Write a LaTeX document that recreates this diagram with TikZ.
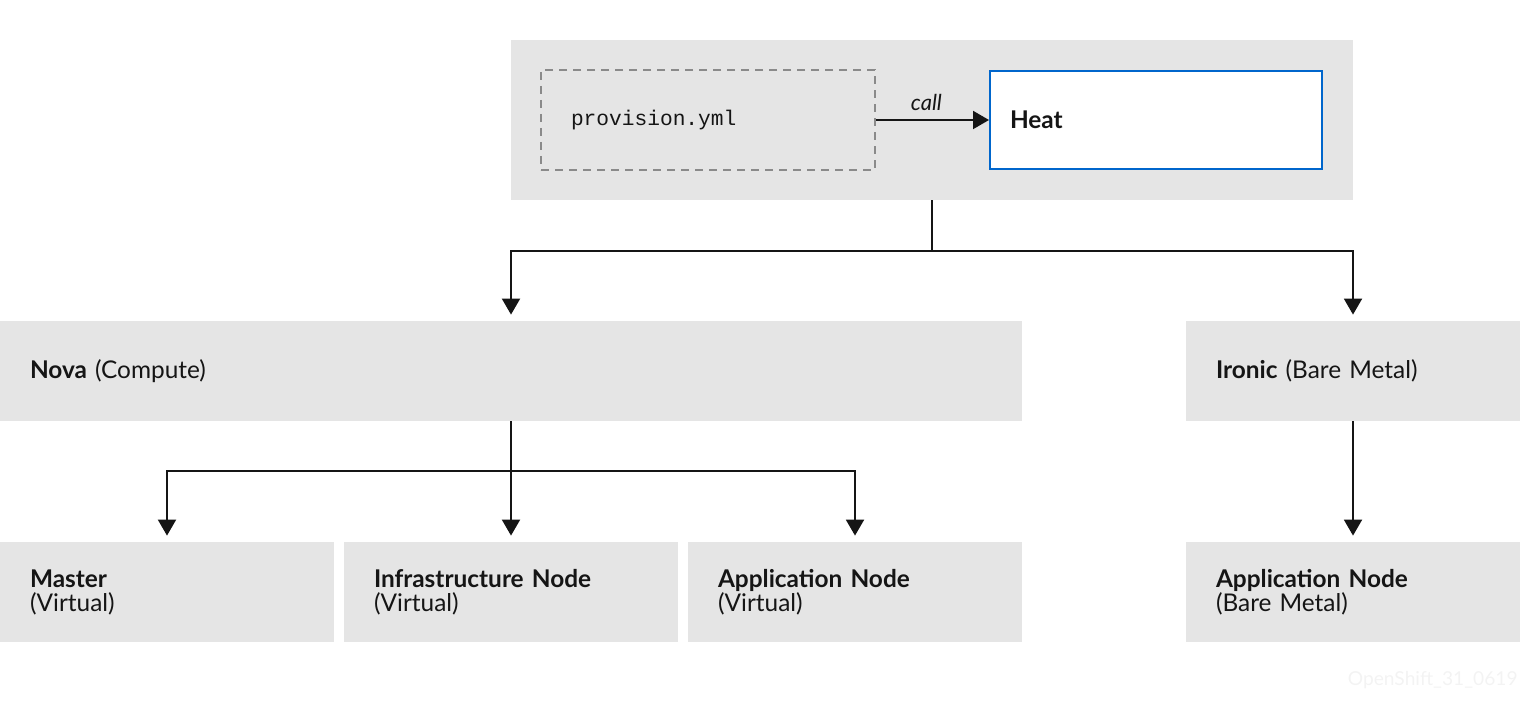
\documentclass[tikz,border=0pt]{standalone}
\usepackage{fontspec}
\setmainfont{Lato}
\setmonofont{Liberation Mono}
\usetikzlibrary{arrows.meta}
\definecolor{boxgray}{HTML}{E5E5E5}
\definecolor{ink}{HTML}{151515}
\definecolor{heatblue}{HTML}{0066CC}
\definecolor{dashgray}{HTML}{8A8A8A}
\definecolor{wm}{HTML}{F3F3F3}
\tikzset{
  graybox/.style={fill=boxgray, draw=none, rectangle, minimum height=50pt, inner xsep=15pt, inner ysep=0pt, align=left, text=ink, font=\fontsize{12.2}{12}\selectfont},
  conn/.style={draw=ink, line width=1pt, -{Triangle[width=9pt,length=8pt]}},
  plain/.style={draw=ink, line width=1pt},
}
\begin{document}
\begin{tikzpicture}[x=0.5pt,y=-0.5pt]
\useasboundingbox (0,0) rectangle (1520,721);
% top container
\node[fill=boxgray, minimum width=421pt, minimum height=80pt, inner sep=0pt] (top) at (932,120) {};
\node[draw=dashgray, dashed, dash pattern=on 4pt off 3pt, line width=0.8pt, minimum width=167pt, minimum height=50pt, inner xsep=15pt, text width=137pt, align=left, font=\ttfamily\fontsize{10.6}{12}\selectfont, text=ink] (prov) at (708,120) {provision.yml};
\node[draw=heatblue, fill=white, line width=1pt, minimum width=166pt, minimum height=49pt, inner xsep=10pt, text width=146pt, align=left, font=\bfseries\fontsize{12.2}{12}\selectfont, text=ink] (heat) at (1156,120) {Heat};
\draw[conn] (prov.east) -- node[above, font=\itshape\fontsize{11}{12}\selectfont, text=ink, yshift=1pt, xshift=-3pt] {call} (heat.west);
% middle layer
\node[graybox, text width=481pt] (nova) at (511,371) {\textbf{Nova} (Compute)};
\node[graybox, text width=137pt] (ironic) at (1353,371) {\textbf{Ironic} (Bare Metal)};
% bottom layer
\node[graybox, text width=137pt] (master) at (167,592) {\textbf{Master}\\(Virtual)};
\node[graybox, text width=137pt] (infra) at (511,592) {\textbf{Infrastructure Node}\\(Virtual)};
\node[graybox, text width=137pt] (appv) at (855,592) {\textbf{Application Node}\\(Virtual)};
\node[graybox, text width=137pt] (appb) at (1353,592) {\textbf{Application Node}\\(Bare Metal)};
% connectors from top
\coordinate (tj) at (932,251);
\draw[plain] (top.south) -- (tj);
\draw[conn] (tj) -| ([yshift=3pt]nova.north);
\draw[conn] (tj) -| ([yshift=3pt]ironic.north);
% connectors from nova
\coordinate (nj) at (511,471);
\draw[conn] (nova.south) -- ([yshift=3pt]infra.north);
\draw[conn] (nj) -| ([yshift=3pt]master.north);
\draw[conn] (nj) -| ([yshift=3pt]appv.north);
% ironic
\draw[conn] (ironic.south) -- ([yshift=3pt]appb.north);
% watermark
\node[anchor=east, text=wm, font=\fontsize{9.6}{12}\selectfont, inner sep=0pt] (wmark) at (1518,680) {OpenShift\_31\_0619};
\end{tikzpicture}
\end{document}
